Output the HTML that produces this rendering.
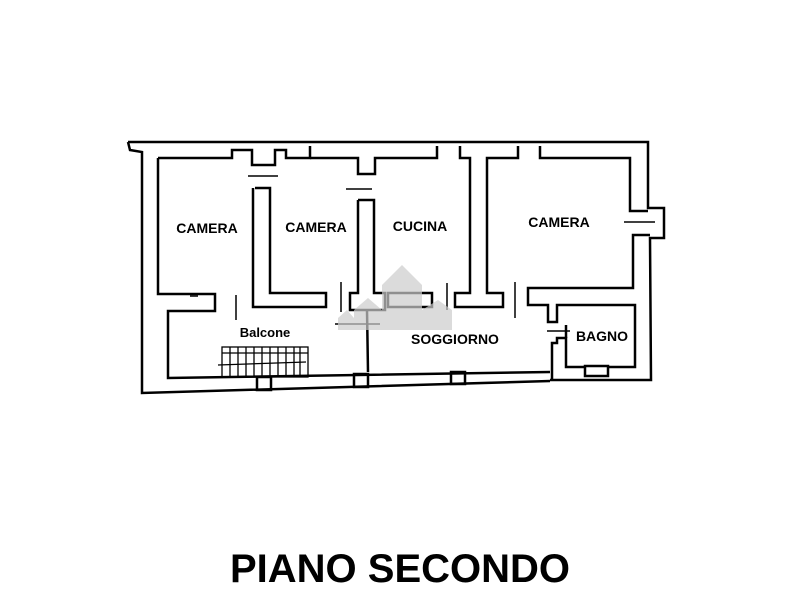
<!DOCTYPE html>
<html><head><style>body{margin:0;background:#fff}svg{display:block}</style></head><body>
<svg width="800" height="600" viewBox="0 0 800 600" xmlns="http://www.w3.org/2000/svg">
<g fill="none" stroke="#000" stroke-width="2.5" stroke-linejoin="miter">
<!-- outer -->
<polyline points="128,142 648,142 648,208 664,208 664,238 650,238 651,380 550,380"/>
<polyline points="128,142 130,150 142,152 142,393 550,381"/>
<!-- left inner -->
<polyline points="158,158 232,158 232,150 252,150 252,165 275,165 275,150 286,150 286,158 310,158 310,146"/>
<polyline points="158,158 158,294 215,294 215,311 168,311 168,378 550,372"/>
<polyline points="310,158 358,158 358,174 375,174 375,158 437,158 437,146"/>
<polyline points="460,146 460,158 470,158 470,293 455,293 455,307 503,307 503,293 487,293 487,158 518,158 518,146"/>
<polyline points="540,146 540,158 630,158 630,211 648,211"/>
<polyline points="650,235 633,235 633,288 528,288 528,305 548,305 548,322 557,322 557,305 635,305 635,367 608,367"/>
<polyline points="585,367 566,367 566,338 557,338 557,343 552,343 552,380"/>
<polyline points="566,338 566,325"/>
<!-- partitions -->
<polyline points="255,188 270,188 270,293 326,293 326,307 253,307 253,188"/>
<polyline points="358,200 374,200 374,293 385,293 385,310 350,310 350,293 358,293 358,200"/>
<polyline points="367,310 368,372"/>
<!-- piers bottom -->
<rect x="257" y="377" width="14" height="13"/>
<rect x="354" y="374" width="14" height="13"/>
<rect x="451" y="372" width="14" height="12"/>
<rect x="585" y="366" width="23" height="10"/>
<rect x="388" y="293" width="44" height="14"/>
</g>
<g stroke="#000" stroke-width="1.5">
<line x1="248" y1="176" x2="278" y2="176"/><line x1="346" y1="189" x2="372" y2="189"/>
<line x1="236" y1="295" x2="236" y2="320"/><line x1="341" y1="282" x2="341" y2="312"/>
<line x1="447" y1="283" x2="447" y2="310"/><line x1="515" y1="282" x2="515" y2="318"/>
<line x1="624" y1="222" x2="655" y2="222"/><line x1="547" y1="331" x2="570" y2="331"/>
<line x1="190" y1="296" x2="198" y2="296"/><line x1="335" y1="324" x2="380" y2="324"/>
</g>
<g stroke="#000" stroke-width="1.3" fill="none">
<rect x="222" y="347" width="86" height="30"/>
<line x1="222" y1="353" x2="308" y2="353"/>
<line x1="230" y1="347" x2="230" y2="377"/><line x1="238" y1="347" x2="238" y2="377"/>
<line x1="246" y1="347" x2="246" y2="377"/><line x1="254" y1="347" x2="254" y2="377"/>
<line x1="262" y1="347" x2="262" y2="377"/><line x1="270" y1="347" x2="270" y2="377"/>
<line x1="278" y1="347" x2="278" y2="377"/><line x1="286" y1="347" x2="286" y2="377"/>
<line x1="294" y1="347" x2="294" y2="377"/><line x1="300" y1="347" x2="300" y2="377"/>
<line x1="218" y1="365" x2="306" y2="362"/>
</g>
<g fill="#ccc" opacity="0.7">
<polygon points="382,285 402,265 422,285 422,330 382,330"/>
<polygon points="354,310 368,298 382,310 382,330 354,330"/>
<polygon points="422,310 438,300 452,310 452,330 422,330"/>
<polygon points="338,318 347,310 354,318 354,330 338,330"/>
</g>
<g font-family="Liberation Sans, sans-serif" font-weight="bold" font-size="14" text-anchor="middle" fill="#000">
<text x="207" y="233">CAMERA</text>
<text x="316" y="232">CAMERA</text>
<text x="420" y="231">CUCINA</text>
<text x="559" y="227">CAMERA</text>
<text x="265" y="337" font-size="13">Balcone</text>
<text x="455" y="344">SOGGIORNO</text>
<text x="602" y="341">BAGNO</text>
<text x="400" y="582" font-size="40">PIANO SECONDO</text>
</g>
</svg>
</body></html>
